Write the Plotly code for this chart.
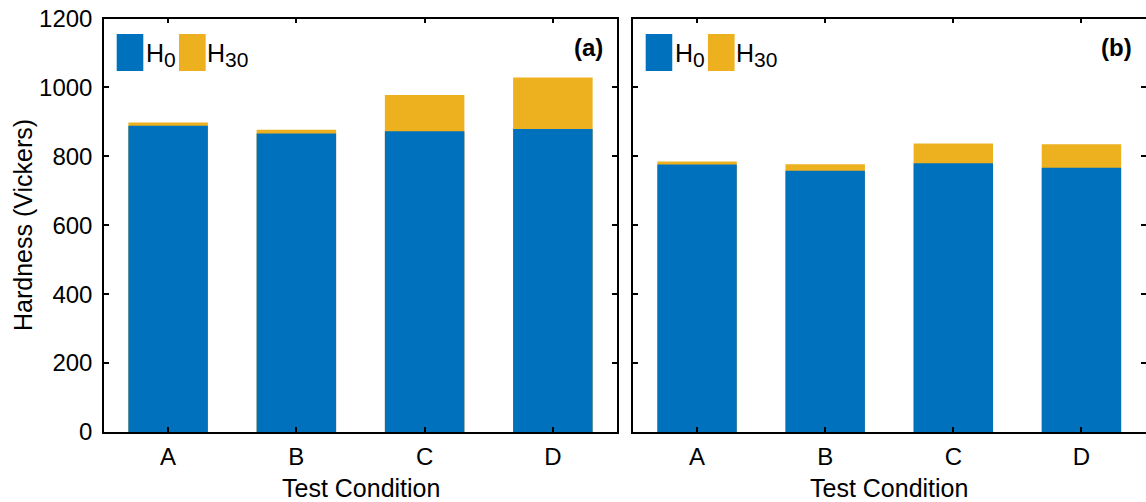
import plotly.graph_objects as go

categories = ["A", "B", "C", "D"]
# Panel (a)
h0_a = [889, 866, 873, 879]
h30_a = [898, 877, 978, 1029]
# Panel (b)
h0_b = [776, 758, 780, 767]
h30_b = [785, 777, 837, 835]

yticks = [0, 200, 400, 600, 800, 1000, 1200]

BLUE = "#0072BD"
YELLOW = "#EDB120"
FONT = "Liberation Sans, Arial, sans-serif"

W, H = 1146, 502
dom_a = [104 / W, 617 / W]
dom_b = [633 / W, 1145.5 / W]
dom_y = [(H - 432) / H, (H - 18.5) / H]

fig = go.Figure()
for xa, ya, h0, h30 in [("x", "y", h0_a, h30_a), ("x2", "y2", h0_b, h30_b)]:
    fig.add_trace(go.Bar(x=categories, y=h30, marker_color=YELLOW, marker_line_width=0,
                         width=0.62, xaxis=xa, yaxis=ya, showlegend=False, name="H30"))
    fig.add_trace(go.Bar(x=categories, y=h0, marker_color=BLUE, marker_line_width=0,
                         width=0.62, xaxis=xa, yaxis=ya, showlegend=False, name="H0"))

axis_common = dict(showline=True, linecolor="black", linewidth=1.5, mirror="ticks",
                   ticks="inside", ticklen=5, tickwidth=1.5, tickcolor="black",
                   showgrid=False, zeroline=False, automargin=False,
                   tickfont=dict(family=FONT, size=24, color="black"))

fig.update_layout(
    width=W, height=H, margin=dict(l=0, r=0, t=0, b=0, autoexpand=False),
    plot_bgcolor="white", paper_bgcolor="white", barmode="overlay",
    xaxis=dict(domain=dom_a, anchor="y", range=[-0.5, 3.5], ticklabelstandoff=2, **axis_common),
    xaxis2=dict(domain=dom_b, anchor="y2", range=[-0.5, 3.5], ticklabelstandoff=2, **axis_common),
    yaxis=dict(domain=dom_y, anchor="x", range=[0, 1200], tickvals=yticks, ticklabelstandoff=5,
               **axis_common),
    yaxis2=dict(domain=dom_y, anchor="x2", range=[0, 1200], tickvals=yticks, showticklabels=False,
                **axis_common),
)

TITLE_FONT = dict(family=FONT, size=25, color="black")
# Axis titles
fig.add_annotation(xref="paper", yref="paper", x=(104 + 617) / 2 / W, y=1 - 488 / H,
                   text="Test Condition", showarrow=False, xanchor="center", yanchor="middle",
                   font=TITLE_FONT)
fig.add_annotation(xref="paper", yref="paper", x=(633 + 1145.5) / 2 / W, y=1 - 488 / H,
                   text="Test Condition", showarrow=False, xanchor="center", yanchor="middle",
                   font=TITLE_FONT)
fig.add_annotation(xref="paper", yref="paper", x=23 / W, y=1 - 225 / H, textangle=-90,
                   text="Hardness (Vickers)", showarrow=False, xanchor="center", yanchor="middle",
                   font=TITLE_FONT)

# Custom legends and panel labels
pw, ph = 513.0, 413.5
def fx(px):
    return px / pw
def fy(py):
    return 1 - py / ph

SUB = "<sub><span style='font-size:21px'>{}</span></sub>"
for xd, yd, label in [("x domain", "y domain", "(a)"), ("x2 domain", "y2 domain", "(b)")]:
    fig.add_shape(type="rect", xref=xd, yref=yd, x0=fx(12.7), x1=fx(39.3), y0=fy(52.5), y1=fy(15.5),
                  fillcolor=BLUE, line_width=0)
    fig.add_shape(type="rect", xref=xd, yref=yd, x0=fx(75), x1=fx(101.7), y0=fy(52.5), y1=fy(15.5),
                  fillcolor=YELLOW, line_width=0)
    fig.add_annotation(xref=xd, yref=yd, x=fx(40), y=fy(37), xanchor="left", yanchor="middle",
                       text="H" + SUB.format("0"), showarrow=False,
                       font=dict(family=FONT, size=25, color="black"))
    fig.add_annotation(xref=xd, yref=yd, x=fx(101), y=fy(37), xanchor="left", yanchor="middle",
                       text="H" + SUB.format("30"), showarrow=False,
                       font=dict(family=FONT, size=25, color="black"))
    fig.add_annotation(xref=xd, yref=yd, x=fx(501), y=fy(29.5), xanchor="right", yanchor="middle",
                       text="<b>" + label + "</b>", showarrow=False,
                       font=dict(family=FONT, size=24, color="black"))

fig.write_html("out.html", config={"displayModeBar": False},
               post_script="document.body.style.margin='0px';")
